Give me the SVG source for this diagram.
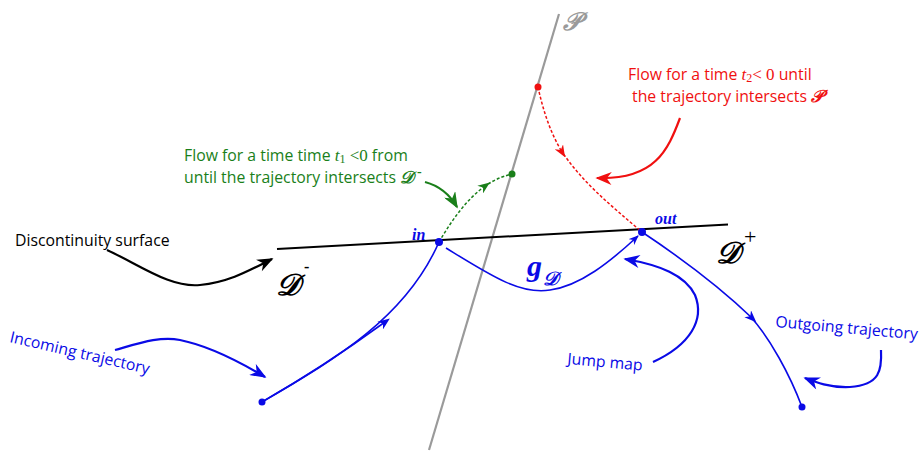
<svg xmlns="http://www.w3.org/2000/svg" width="923" height="452" viewBox="0 0 923 452">
<defs>
<style>
.txt{font-family:"Open Sans","Noto Sans",sans-serif;font-size:15.8px}
.math{font-family:"Liberation Serif",serif;font-style:italic}
.mathr{font-family:"Liberation Serif",serif}
.scr{font-family:"DejaVu Serif","Liberation Serif",serif;font-style:italic;font-weight:bold}
.lbl{font-family:"Liberation Serif",serif;font-style:italic;font-weight:bold;fill:#0a0ae6}
.blue{stroke:#0a0ae6;fill:none}
.traj{stroke-width:1.6}
.ann{stroke-width:2.2}
</style>
<marker id="ab" viewBox="0 0 10 8" refX="9" refY="4" markerWidth="10" markerHeight="8" markerUnits="userSpaceOnUse" orient="auto"><path d="M0,0 L10,4 L0,8 L3,4z" fill="#0a0ae6"/></marker>
<marker id="abl" viewBox="0 0 10 8" refX="9" refY="4" markerWidth="17" markerHeight="13" markerUnits="userSpaceOnUse" orient="auto"><path d="M0,0 L10,4 L0,8 L3,4z" fill="#0a0ae6"/></marker>
<marker id="ak" viewBox="0 0 10 8" refX="9" refY="4" markerWidth="17" markerHeight="13" markerUnits="userSpaceOnUse" orient="auto"><path d="M0,0 L10,4 L0,8 L3,4z" fill="#000"/></marker>
<marker id="ar" viewBox="0 0 10 8" refX="9" refY="4" markerWidth="17" markerHeight="13" markerUnits="userSpaceOnUse" orient="auto"><path d="M0,0 L10,4 L0,8 L3,4z" fill="#f01010"/></marker>
<marker id="ag" viewBox="0 0 10 8" refX="9" refY="4" markerWidth="17" markerHeight="13" markerUnits="userSpaceOnUse" orient="auto"><path d="M0,0 L10,4 L0,8 L3,4z" fill="#1a7f1a"/></marker>
<marker id="mr" viewBox="0 0 10 8" refX="5" refY="4" markerWidth="12" markerHeight="10" markerUnits="userSpaceOnUse" orient="auto"><path d="M0,0 L10,4 L0,8 L3,4z" fill="#f01010"/></marker>
<marker id="mg" viewBox="0 0 10 8" refX="5" refY="4" markerWidth="12" markerHeight="10" markerUnits="userSpaceOnUse" orient="auto"><path d="M0,0 L10,4 L0,8 L3,4z" fill="#1a7f1a"/></marker>
<marker id="mb" viewBox="0 0 10 8" refX="5" refY="4" markerWidth="12" markerHeight="10" markerUnits="userSpaceOnUse" orient="auto"><path d="M0,0 L10,4 L0,8 L3,4z" fill="#0a0ae6"/></marker>
</defs>
<rect width="923" height="452" fill="#fff"/>

<g id="surface-P">
<line x1="429" y1="450" x2="559" y2="14" stroke="#9a9a9a" stroke-width="2.2"/>
<text x="563" y="30" class="scr" font-size="25" fill="#9a9a9a">𝒫</text>
</g>

<g id="surface-D">
<line x1="277" y1="249" x2="728" y2="224.5" stroke="#000" stroke-width="2"/>
<text x="276" y="295" class="scr" font-size="30" fill="#000">𝒟</text>
<text x="304" y="272" class="mathr" font-size="16" font-weight="bold" fill="#000">-</text>
<text x="716" y="263" class="scr" font-size="30" fill="#000">𝒟</text>
<text x="744" y="244" class="mathr" font-size="22" fill="#000">+</text>
</g>

<g id="connectors">
<path id="incoming" class="blue traj" d="M262,402 C330,362 405,320 439,242"/>
<path class="blue traj" d="M262,402 C290,386 330,362 385,322" marker-end="url(#mb)"/>
<path id="jump" class="blue traj" d="M446,248 C490,275 520,295 550,290 C580,286 610,262 638,236" marker-end="url(#ab)"/>
<path id="outgoing-a" class="blue traj" d="M642,232 C690,264 725,292 752,318" marker-end="url(#mb)"/>
<path id="outgoing-b" class="blue traj" d="M750,316 C770,338 790,375 802,407"/>
<path id="red-flow-a" d="M538,87 C543,110 550,132 562,152" stroke="#f01010" stroke-width="1.5" stroke-dasharray="3,2" fill="none" marker-end="url(#mr)"/>
<path id="red-flow-b" d="M561,150 C580,180 610,205 642,232" stroke="#f01010" stroke-width="1.5" stroke-dasharray="3,2" fill="none"/>
<path id="green-flow-a" d="M439,242 C452,220 466,200 485,186" stroke="#1a7f1a" stroke-width="1.5" stroke-dasharray="3,2" fill="none" marker-end="url(#mg)"/>
<path id="green-flow-b" d="M484,187 C492,181 500,177 512,174" stroke="#1a7f1a" stroke-width="1.5" stroke-dasharray="3,2" fill="none"/>
<path id="ann-disc" class="ann" stroke="#000" fill="none" d="M107,250 C140,265 170,288 200,285 C230,282 250,270 272,259" marker-end="url(#ak)"/>
<path id="ann-in" class="ann blue" d="M115,350 C140,343 160,336 180,340 C210,346 240,362 265,377" marker-end="url(#abl)"/>
<path id="ann-jump" class="ann blue" d="M653,362 C690,345 705,320 695,295 C685,275 660,265 625,259" marker-end="url(#abl)"/>
<path id="ann-out" class="ann blue" d="M881,350 C882,370 880,385 850,387 C830,388 815,382 805,378" marker-end="url(#abl)"/>
<path id="ann-red" class="ann" stroke="#f01010" fill="none" d="M680,118 C668,150 655,180 597,178" marker-end="url(#ar)"/>
<path id="ann-green" class="ann" stroke="#1a7f1a" fill="none" d="M425,182 C440,186 450,195 457,207" marker-end="url(#ag)"/>
</g>

<g id="point-in">
<circle cx="439" cy="242" r="4" fill="#0a0ae6"/>
<text x="412" y="240" class="lbl" font-size="16">in</text>
</g>
<g id="point-out">
<circle cx="642" cy="232" r="4" fill="#0a0ae6"/>
<text x="655" y="224" class="lbl" font-size="16">out</text>
</g>
<g id="point-start"><circle cx="262" cy="402" r="3.5" fill="#0a0ae6"/></g>
<g id="point-end"><circle cx="802" cy="407" r="3.5" fill="#0a0ae6"/></g>
<g id="point-red"><circle cx="538" cy="87" r="3.5" fill="#f01010"/></g>
<g id="point-green"><circle cx="512" cy="174" r="3.5" fill="#1a7f1a"/></g>

<g id="label-gD">
<text x="527" y="276" class="lbl" font-size="30">g</text>
<text x="543" y="285" class="scr" font-size="19" fill="#0a0ae6">𝒟</text>
</g>

<g id="label-disc"><text x="15" y="246" class="txt" fill="#000">Discontinuity surface</text></g>
<g id="label-incoming"><text x="9" y="342" class="txt" fill="#0a0ae6" transform="rotate(13 9 342)">Incoming trajectory</text></g>
<g id="label-jump"><text x="567" y="364" class="txt" fill="#0a0ae6" transform="rotate(5 567 364)">Jump map</text></g>
<g id="label-outgoing"><text x="775" y="327" class="txt" fill="#0a0ae6" transform="rotate(5 775 327)">Outgoing trajectory</text></g>

<g id="label-green" fill="#1a7f1a">
<text x="184" y="161" class="txt">Flow for a time time <tspan class="math" font-size="17">t</tspan><tspan class="mathr" font-size="12" dy="2">1</tspan><tspan class="mathr" font-size="17" dy="-2"> &lt;0</tspan> from</text>
<text x="184" y="183" class="txt">until the trajectory intersects <tspan class="scr" font-size="17">𝒟</tspan></text>
<text x="417" y="176" class="mathr" font-size="14" font-weight="bold">-</text>
</g>

<g id="label-red" fill="#f01010">
<text x="628" y="80" class="txt">Flow for a time <tspan class="math" font-size="17">t</tspan><tspan class="mathr" font-size="12" dy="2">2</tspan><tspan class="mathr" font-size="17" dy="-2">&lt; 0</tspan> until</text>
<text x="632" y="102" class="txt">the trajectory intersects <tspan class="scr" font-size="17">𝒫</tspan></text>
</g>
</svg>
